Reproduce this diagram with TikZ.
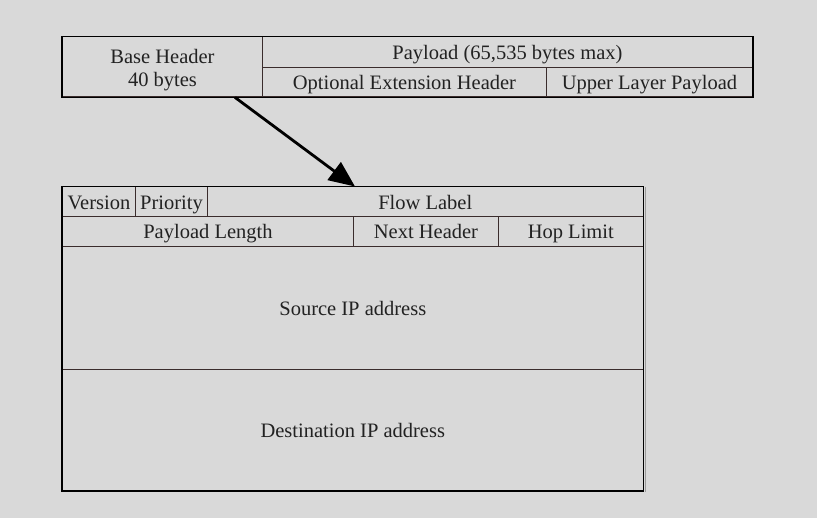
\documentclass[tikz,border=0pt]{standalone}
\usepackage{fontspec}
\setmainfont{Liberation Serif}
\usetikzlibrary{arrows.meta}
\definecolor{bg}{HTML}{D9D9D9}
\definecolor{inner}{HTML}{3A2C2C}
\definecolor{txt}{HTML}{222222}
\tikzset{
  cell/.style={draw=inner, line width=0.9pt, rectangle, inner sep=0pt, anchor=north west,
    font=\fontsize{20.5}{23}\selectfont, text=txt},
  one/.style={text height=18pt, text depth=3.5pt},
  outer/.style={draw=black, line width=1.6pt},
  bigarrow/.style={line width=2.8pt, -{Triangle[length=26pt,width=22pt]}}
}
\begin{document}
\begin{tikzpicture}[x=1pt,y=-1pt]
\useasboundingbox[fill=bg] (0,0) rectangle (817,518);
% top box
\node[cell, minimum width=200pt, minimum height=60pt] (base) at (62,36.5) {\raisebox{-3pt}[\height][\depth]{\begin{tabular}{@{}c@{}}Base Header\\40 bytes\end{tabular}}};
\node[cell, one, minimum width=490pt, minimum height=30.2pt] (pay) at (262,36.5) {Payload (65,535 bytes max)};
\node[cell, one, minimum width=284pt, minimum height=29.8pt] (opt) at (262,66.7) {Optional Extension Header};
\node[cell, one, minimum width=206pt, minimum height=29.8pt] (upper) at (546,66.7) {Upper Layer Payload};
\draw[outer] (base.north west) rectangle (upper.south east);
% lower table
\node[cell, one, minimum width=73pt, minimum height=29.8pt] (ver) at (62,186.5) {Version};
\node[cell, one, minimum width=72pt, minimum height=29.8pt] (pri) at (135,186.5) {Priority};
\node[cell, one, minimum width=435.7pt, minimum height=29.8pt] (flow) at (207,186.5) {Flow Label};
\node[cell, one, minimum width=291pt, minimum height=30pt] (plen) at (62,216.3) {Payload Length};
\node[cell, one, minimum width=145pt, minimum height=30pt] (next) at (353,216.3) {Next Header};
\node[cell, one, minimum width=144.7pt, minimum height=30pt] (hop) at (498,216.3) {Hop Limit};
\node[cell, one, minimum width=580.7pt, minimum height=122.4pt] (src) at (62,246.3) {Source IP address};
\node[cell, one, minimum width=580.7pt, minimum height=121.6pt] (dst) at (62,368.7) {Destination IP address};
\draw[gray!70!bg, line width=1.2pt] ([xshift=2pt,yshift=-1pt]flow.north east) -- ([xshift=2pt,yshift=-1pt]dst.south east);
\draw[outer] (ver.north west) rectangle (dst.south east);
% arrow
\draw[bigarrow] ([xshift=173pt]base.south west) -- ([xshift=148pt]flow.north west);
\end{tikzpicture}
\end{document}
